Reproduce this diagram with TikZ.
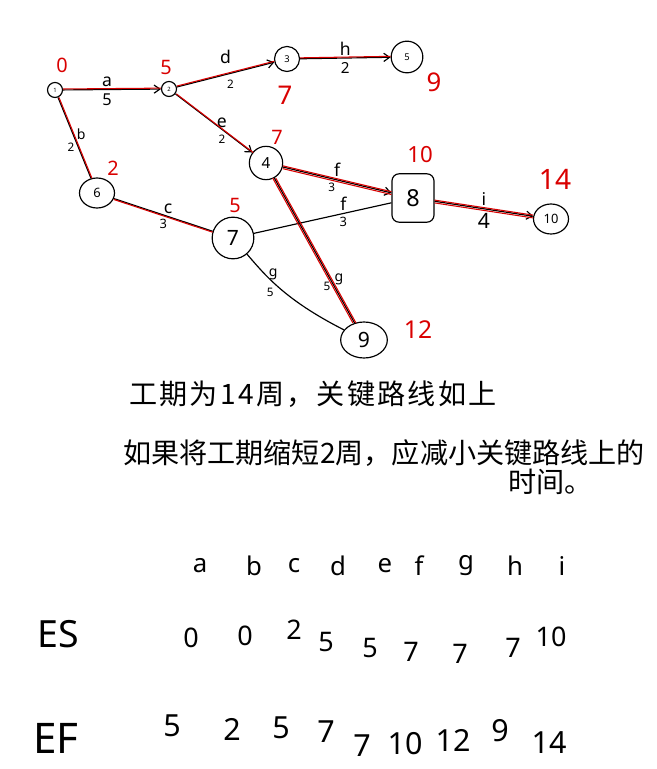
\documentclass[tikz,border=0pt]{standalone}
\usepackage{fontspec}
\setmainfont{Noto Sans}
\newfontfamily\cjk{Noto Sans CJK SC}
\usetikzlibrary{arrows.meta, shapes.geometric}

\begin{document}
\begin{tikzpicture}[
    x=0.03cm, y=-0.03cm,
    event/.style={circle, draw, line width=1pt, inner sep=0pt},
    act/.style={draw, line width=1pt},
    crit/.style={draw=red!85!black, line width=0.9pt},
    tip/.style={-{Straight Barb[length=5pt, width=7pt]}},
    lab/.style={font=\fontsize{15}{16}\selectfont, inner sep=2pt},
    wt/.style={font=\fontsize{10}{11}\selectfont, inner sep=3pt},
    time/.style={text=red!85!black, font=\fontsize{17}{18}\selectfont},
    hand/.style={font=\cjk\fontsize{24}{26}\selectfont, anchor=west, inner sep=0pt},
    head/.style={font=\fontsize{22}{24}\selectfont},
    val/.style={font=\fontsize{23}{26}\selectfont}
]
\useasboundingbox (0,0) rectangle (657,769);

% events
\node[event, minimum size=0.45cm, font=\fontsize{5}{6}\selectfont] (n1) at (55,90) {1};
\node[event, minimum size=0.45cm, font=\fontsize{5}{6}\selectfont] (n2) at (169,89) {2};
\node[event, minimum size=0.75cm, font=\fontsize{8}{9}\selectfont] (n3) at (287,59) {3};
\node[event, minimum size=0.95cm, font=\fontsize{8}{9}\selectfont] (n5) at (407,57) {5};
\node[event, minimum size=1.0cm, font=\fontsize{13}{14}\selectfont] (n4) at (266,163) {4};
\node[ellipse, draw, line width=1pt, minimum width=1.05cm, minimum height=0.9cm, inner sep=0pt,
      font=\fontsize{11}{12}\selectfont] (n6) at (97,193) {6};
\node[event, minimum size=1.25cm, font=\fontsize{18}{20}\selectfont] (n7) at (233,238) {7};
\node[rectangle, rounded corners=6pt, draw, line width=1pt, minimum width=1.26cm, minimum height=1.45cm,
      font=\fontsize{20}{22}\selectfont] (n8) at (413,198) {8};
\node[ellipse, draw, line width=1pt, minimum width=1.4cm, minimum height=1.08cm, inner sep=0pt,
      font=\fontsize{18}{20}\selectfont] (n9) at (364,340) {9};
\node[ellipse, draw, line width=1pt, minimum width=1.05cm, minimum height=0.9cm, inner sep=0pt,
      font=\fontsize{11}{12}\selectfont] (n10) at (551,219) {10};

% activities
\draw[act, tip] (n1) -- node[lab, above, pos=0.45] {a} node[wt, below, pos=0.45, font=\fontsize{14}{15}\selectfont] {5} (n2);
\draw[act, tip] (n2) -- node[lab, above=7pt, pos=0.5] {d} node[wt, below=2pt, pos=0.55] {2} (n3);
\draw[act, tip] (n3) -- node[lab, above] {h} node[wt, below, font=\fontsize{13}{14}\selectfont] {2} (n5);
\draw[act, tip] (n2) -- node[lab, right, pos=0.5] {e} node[wt, left=5pt, pos=0.78] {2} (n4);
\draw[act] (n1) -- node[wt, right, pos=0.45, font=\fontsize{12}{13}\selectfont] {b} node[wt, left, pos=0.62] {2} (n6);
\draw[act] (n6) -- node[lab, above, pos=0.55] {c} node[wt, below, pos=0.5, font=\fontsize{11}{12}\selectfont] {3} (n7);
\draw[act, tip] (n4) -- node[lab, above, pos=0.5] {f} node[wt, below, pos=0.45] {3} (n8);
\draw[act] (n7) -- node[lab, above, pos=0.65] {f} node[wt, below, pos=0.65, font=\fontsize{11}{12}\selectfont] {3} (n8);
\draw[act, tip] (n8) -- node[lab, above, pos=0.5] {i} node[wt, below, pos=0.5, font=\fontsize{18}{19}\selectfont] {4} (n10);
\draw[act] (n4) -- node[wt, right, pos=0.7, font=\fontsize{12}{13}\selectfont] {g} node[wt, left, pos=0.75] {5} (n9);
\draw[act] (n7) .. controls (265,275) and (285,300) .. node[wt, right, pos=0.3, font=\fontsize{12}{13}\selectfont] {g} node[wt, left=6pt, pos=0.55] {5} (n9);

% critical path
\draw[crit, transform canvas={yshift=0.8pt}] (n1) -- (n2);
\draw[crit, transform canvas={yshift=0.8pt}] (n2) -- (n3);
\draw[crit, transform canvas={yshift=0.8pt}] (n3) -- (n5);
\draw[crit, transform canvas={xshift=0.8pt}] (n2) -- (n4);
\draw[crit, transform canvas={xshift=0.8pt}] (n1) -- (n6);
\draw[crit, transform canvas={yshift=-0.8pt}] (n6) -- (n7);
\draw[crit, transform canvas={yshift=1pt}] (n4) -- (n8);
\draw[crit, transform canvas={yshift=-1.4pt}] (n4) -- (n8);
\draw[crit, transform canvas={yshift=1pt}] (n8) -- (n10);
\draw[crit, transform canvas={yshift=-1.4pt}] (n8) -- (n10);
\draw[crit, transform canvas={xshift=1.2pt}] (n4) -- (n9);
\draw[crit, transform canvas={xshift=-1.4pt}] (n4) -- (n9);

% event times
\node[time] (t1) at (62,65) {0};
\node[time] (t2) at (166,67) {5};
\node[time, font=\fontsize{22}{24}\selectfont] (t3) at (285,95) {7};
\node[time, font=\fontsize{22}{24}\selectfont] (t5) at (434,82) {9};
\node[time] (t4) at (277,137) {7};
\node[time] (t6) at (113,168) {2};
\node[time] (t7) at (235,205) {5};
\node[time, font=\fontsize{19}{21}\selectfont] (t8) at (420,155) {10};
\node[time, font=\fontsize{24}{26}\selectfont] (t10) at (555,179) {14};
\node[time, font=\fontsize{21}{23}\selectfont] (t9) at (418,330) {12};

% notes
\node[hand, font=\cjk\fontsize{24}{26}\selectfont\addfontfeature{LetterSpace=8}] (note1) at (129,394) {工期为14周，关键路线如上};
\node[hand] (note2) at (123,453) {如果将工期缩短2周，应减小关键路线上的};
\node[hand] (note3) at (508,482) {时间。};

% table
\foreach \x/\c in {200/a,254/b,294/c,338/d,385/e,419/f,466/g,515/h,562/i}
    \node[head] (h\c) at (\x,566) {\c};
\node[font=\fontsize{32}{34}\selectfont] (es) at (58,634) {ES};
\node[font=\fontsize{36}{38}\selectfont] (ef) at (56,738) {EF};
\foreach \x/\y/\v [count=\k] in {191/638/0,245/636/0,294/630/2,326/642/5,370/648/5,411/652/7,460/654/7,513/648/7,551/637/10}
    \node[val] (es\k) at (\x,\y) {\v};
\foreach \x/\y/\v [count=\k] in {172/726/5,232/729/2,281/728/5,326/732/7,362/746/7,405/744/10,453/740/12,500/731/9,549/743/14}
    \node[val, font=\fontsize{26}{28}\selectfont] (ef\k) at (\x,\y) {\v};
\end{tikzpicture}
\end{document}
